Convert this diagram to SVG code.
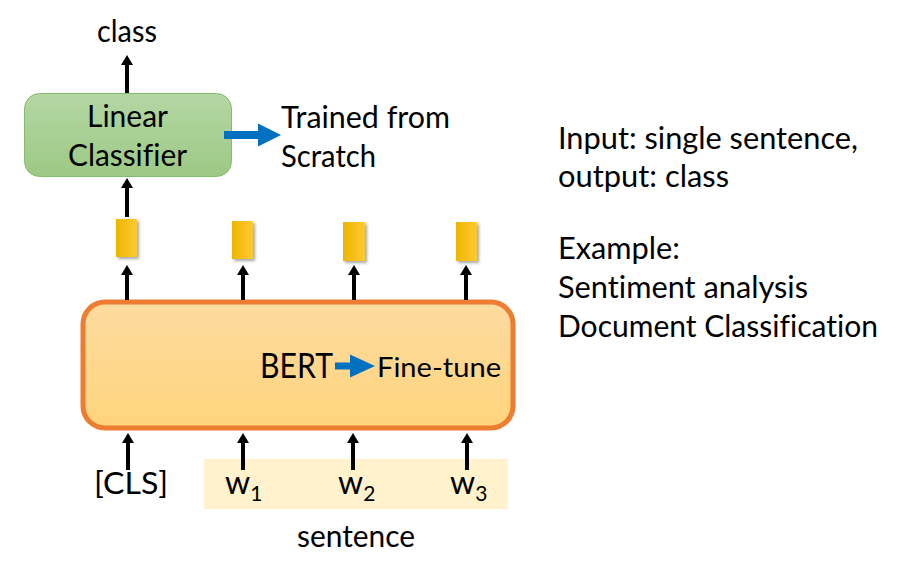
<svg xmlns="http://www.w3.org/2000/svg" width="909" height="570" viewBox="0 0 909 570">
<style>
  text { font-family: Lato, "Open Sans", "Liberation Sans", sans-serif; fill: #000; font-variant-ligatures: none; }
  .t { font-size: 30px; }
  .conn { stroke: #000; stroke-width: 4; fill: none; }
  .blue { fill: #0070c0; }
  .tok { fill: url(#gTok); filter: url(#sh); }
</style>
<defs>
  <linearGradient id="gLC" x1="0" y1="0" x2="0" y2="1">
    <stop offset="0" stop-color="#b5d6a4"/>
    <stop offset="1" stop-color="#9cc985"/>
  </linearGradient>
  <linearGradient id="gBERT" x1="0" y1="0" x2="0" y2="1">
    <stop offset="0" stop-color="#fddba0"/>
    <stop offset="1" stop-color="#ffd47c"/>
  </linearGradient>
  <linearGradient id="gTok" x1="0" y1="0" x2="1" y2="0">
    <stop offset="0" stop-color="#edb500"/>
    <stop offset="1" stop-color="#ffca33"/>
  </linearGradient>
  <filter id="sh" x="-50%" y="-30%" width="200%" height="160%">
    <feDropShadow dx="2" dy="2" stdDeviation="1.5" flood-color="#000" flood-opacity="0.35"/>
  </filter>
  <marker id="ah" viewBox="0 0 10 12" markerWidth="10" markerHeight="12" refX="0" refY="6" markerUnits="userSpaceOnUse" orient="auto">
    <path d="M0,0 L10,6 L0,12 z" fill="#000"/>
  </marker>
</defs>

<g id="sentence-bg">
  <rect x="204" y="459" width="304" height="50" fill="#fff2cc"/>
</g>

<g id="linear-classifier">
  <rect x="24.5" y="93.5" width="207" height="83" rx="15" fill="url(#gLC)" stroke="#84bb6b" stroke-width="1"/>
  <text class="t" x="87" y="127" textLength="81" lengthAdjust="spacingAndGlyphs">Linear</text>
  <text class="t" x="68" y="166" textLength="119" lengthAdjust="spacingAndGlyphs">Classifier</text>
</g>

<g id="trained-note">
  <polygon class="blue" points="224,131 258,131 258,123.5 281,135 258,146.5 258,139 224,139"/>
  <text class="t" x="281" y="128" textLength="169" lengthAdjust="spacingAndGlyphs">Trained from</text>
  <text class="t" x="281" y="167" textLength="95" lengthAdjust="spacingAndGlyphs">Scratch</text>
</g>

<g id="class-label">
  <text class="t" x="97" y="42" textLength="60" lengthAdjust="spacingAndGlyphs">class</text>
</g>

<g id="tokens">
  <rect class="tok" x="116" y="219" width="21" height="38"/>
  <rect class="tok" x="232" y="221" width="21" height="38"/>
  <rect class="tok" x="343" y="222" width="22" height="39"/>
  <rect class="tok" x="456" y="222" width="21" height="39"/>
</g>

<g id="bert">
  <rect x="83" y="302" width="430" height="126" rx="22" fill="url(#gBERT)" stroke="#ed7d31" stroke-width="5"/>
  <text x="260" y="378" style="font-size:35px" textLength="73" lengthAdjust="spacingAndGlyphs">BERT</text>
  <polygon class="blue" points="335,362.5 350,362.5 350,354.5 375,366 350,377.5 350,369.5 335,369.5"/>
  <text x="377" y="377" style="font-size:27px" textLength="124" lengthAdjust="spacingAndGlyphs">Fine-tune</text>
</g>

<g id="inputs">
  <text x="94" y="494" style="font-size:31px" textLength="74" lengthAdjust="spacingAndGlyphs">[CLS]</text>
  <text x="225" y="494" style="font-size:32px">w<tspan style="font-size:21px" dy="7">1</tspan></text>
  <text x="338" y="494" style="font-size:32px">w<tspan style="font-size:21px" dy="7">2</tspan></text>
  <text x="450" y="494" style="font-size:32px">w<tspan style="font-size:21px" dy="7">3</tspan></text>
  <text class="t" x="297" y="547" textLength="118" lengthAdjust="spacingAndGlyphs">sentence</text>
</g>

<g id="description">
  <text class="t" x="558" y="149" textLength="300" lengthAdjust="spacingAndGlyphs">Input: single sentence,</text>
  <text class="t" x="558" y="187" textLength="171" lengthAdjust="spacingAndGlyphs">output: class</text>
  <text class="t" x="558" y="259" textLength="122" lengthAdjust="spacingAndGlyphs">Example:</text>
  <text class="t" x="558" y="298" textLength="250" lengthAdjust="spacingAndGlyphs">Sentiment analysis</text>
  <text class="t" x="558" y="337" textLength="320" lengthAdjust="spacingAndGlyphs">Document Classification</text>
</g>

<g id="connectors">
  <line class="conn" x1="127" y1="93" x2="127" y2="65" marker-end="url(#ah)"/>
  <line class="conn" x1="127" y1="217" x2="127" y2="188" marker-end="url(#ah)"/>
  <line class="conn" x1="127" y1="300" x2="127" y2="275" marker-end="url(#ah)"/>
  <line class="conn" x1="243" y1="300" x2="243" y2="275" marker-end="url(#ah)"/>
  <line class="conn" x1="354" y1="300" x2="354" y2="275" marker-end="url(#ah)"/>
  <line class="conn" x1="466" y1="300" x2="466" y2="275" marker-end="url(#ah)"/>
  <line class="conn" x1="128" y1="470" x2="128" y2="443" marker-end="url(#ah)"/>
  <line class="conn" x1="243" y1="470" x2="243" y2="443" marker-end="url(#ah)"/>
  <line class="conn" x1="353" y1="470" x2="353" y2="443" marker-end="url(#ah)"/>
  <line class="conn" x1="467" y1="470" x2="467" y2="443" marker-end="url(#ah)"/>
</g>
</svg>
